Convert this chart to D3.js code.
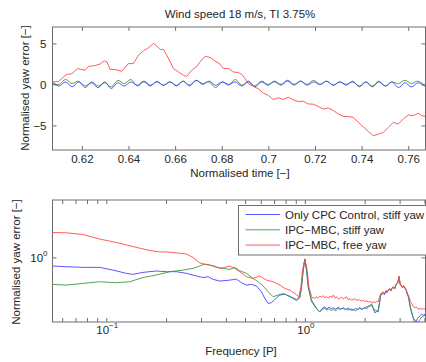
<!DOCTYPE html>
<html>
<head>
<meta charset="utf-8">
<script src="https://cdn.jsdelivr.net/npm/d3@7"></script>
<style>
body { margin: 0; background: white; }
svg { display: block; font-family: "Liberation Sans", Arial, sans-serif; }
</style>
</head>
<body>
<div class="svg"></div>
<script>
// time series, free yaw (red)
const timeFree = [0.6074, 0.6100, 0.6121, 0.6136, 0.6157, 0.6181, 0.6200, 0.6214, 0.6229, 0.6257, 0.6279, 0.6296, 0.6307, 0.6321, 0.6343, 0.6371,
  0.6400, 0.6421, 0.6443, 0.6464, 0.6486, 0.6507, 0.6521, 0.6536, 0.6550, 0.6564, 0.6579, 0.6593, 0.6614, 0.6636, 0.6650, 0.6671,
  0.6693, 0.6707, 0.6729, 0.6750, 0.6771, 0.6793, 0.6807, 0.6829, 0.6850, 0.6871, 0.6886, 0.6900, 0.6914, 0.6936, 0.6957, 0.6979,
  0.7000, 0.7021, 0.7043, 0.7064, 0.7086, 0.7107, 0.7129, 0.7150, 0.7171, 0.7193, 0.7214, 0.7236, 0.7257, 0.7279, 0.7300, 0.7321,
  0.7343, 0.7364, 0.7386, 0.7407, 0.7429, 0.7450, 0.7471, 0.7493, 0.7514, 0.7536, 0.7557, 0.7579, 0.7600, 0.7621, 0.7643, 0.7657, 0.7676];
const yawFree = [0.29, 0.37, 0.9, 1.23, 1.3, 1.93, 1.8, 1.72, 2.2, 2.3, 2.5, 2.87, 2.75, 1.84, 1.8, 1.6,
  2.54, 2.54, 3.57, 4.1, 4.47, 5.0, 4.7, 4.26, 4.26, 3.57, 2.75, 1.93, 1.52, 1.1, 0.98, 1.72,
  2.2, 2.75, 3.44, 3.28, 2.87, 2.46, 1.93, 1.93, 1.52, 1.43, 1.23, 0.7, 0.08, -0.25, -0.53, -1.07,
  -1.35, -1.84, -1.64, -1.84, -1.56, -1.89, -2.09, -2.05, -2.38, -2.42, -2.7, -3.0, -2.87, -3.2, -3.6, -3.9,
  -3.93, -4.0, -4.63, -5.16, -5.74, -6.27, -6.07, -5.86, -5.25, -4.63, -4.84, -4.22, -3.73, -3.81, -3.52, -3.81, -3.93];

// time series, stiff yaw (blue and green), sampled at the wave peaks and troughs
const timeStiff = [0.6074, 0.6102, 0.6130, 0.6158, 0.6186, 0.6214, 0.6242, 0.6270, 0.6298, 0.6326, 0.6354, 0.6382, 0.6410, 0.6438, 0.6466,
  0.6494, 0.6522, 0.6550, 0.6578, 0.6606, 0.6634, 0.6662, 0.6690, 0.6718, 0.6746, 0.6774, 0.6802, 0.6830, 0.6858, 0.6886,
  0.6914, 0.6942, 0.6970, 0.6998, 0.7026, 0.7054, 0.7082, 0.7110, 0.7138, 0.7166, 0.7194, 0.7222, 0.7250, 0.7278, 0.7306,
  0.7334, 0.7362, 0.7390, 0.7418, 0.7446, 0.7474, 0.7502, 0.7530, 0.7558, 0.7586, 0.7614, 0.7642, 0.7674];
const yawCpc = [0.3, -0.2, 0.3, -0.3, 0.3, -0.2, 0.2, -0.4, 0.3, -0.5, 0.2, -0.2, 0.3, -0.1, 0.4,
  -0.1, 0.3, -0.1, 0.3, -0.2, 0.4, -0.1, 0.5, 0.0, 0.4, -0.1, 0.3, 0.0, 0.3, -0.2,
  0.4, -0.3, 0.3, -0.1, 0.4, 0.0, 0.5, 0.0, 0.4, -0.1, 0.3, 0.0, 0.4, -0.1, 0.3,
  0.0, 0.3, -0.2, 0.3, -0.3, 0.3, -0.2, 0.3, -0.4, 0.2, -0.3, 0.2, -0.3];
const yawMbc = [0.1, 0.0, 0.6, 0.1, 0.4, -0.4, 0.3, -0.2, 0.2, -0.3, 0.5, 0.1, 0.6, -0.2, 0.3,
  -0.2, 0.4, -0.1, 0.3, -0.1, 0.4, -0.2, 0.5, 0.1, 0.3, -0.4, 0.3, -0.1, 0.6, -0.1,
  0.3, -0.2, 0.4, 0.0, 0.3, -0.1, 0.4, -0.1, 0.4, 0.0, 0.5, 0.0, 0.4, -0.1, 0.3,
  -0.1, 0.4, -0.3, 0.3, -0.2, 0.4, -0.2, 0.3, 0.1, 0.5, 0.1, 0.4, -0.2];

const timeTicks = [0.62, 0.64, 0.66, 0.68, 0.7, 0.72, 0.74, 0.76];
const yawTicks = [-5, 0, 5];

// spectra [frequency in P, normalised yaw error]
const psdCpc = [[0.0536, 0.847], [0.0628, 0.836], [0.0763, 0.826], [0.0926, 0.826], [0.108, 0.784], [0.1261, 0.736], [0.1363, 0.722],
  [0.1531, 0.75], [0.1787, 0.77], [0.2007, 0.76], [0.2254, 0.76], [0.2532, 0.736], [0.2842, 0.70], [0.3072, 0.68], [0.3257, 0.69],
  [0.345, 0.656], [0.3728, 0.635], [0.4184, 0.647], [0.4522, 0.66], [0.4794, 0.615], [0.508, 0.588], [0.5384, 0.596], [0.5707, 0.577],
  [0.6045, 0.518], [0.6283, 0.455], [0.6531, 0.414], [0.6789, 0.42], [0.7057, 0.447], [0.7479, 0.486], [0.7929, 0.495], [0.8402, 0.47],
  [0.9079, 0.447], [0.9436, 0.47], [0.9621, 0.57], [0.9808, 0.78], [1.0, 0.97], [1.0195, 0.78], [1.0394, 0.57],
  [1.06, 0.49], [1.08, 0.44], [1.10, 0.42], [1.12, 0.40], [1.15, 0.37], [1.19, 0.352], [1.22, 0.375], [1.26, 0.388], [1.29, 0.37],
  [1.32, 0.385], [1.36, 0.375], [1.39, 0.381], [1.43, 0.37], [1.47, 0.385], [1.51, 0.372], [1.56, 0.376], [1.60, 0.368], [1.65, 0.38],
  [1.70, 0.365], [1.75, 0.364], [1.80, 0.375], [1.85, 0.37], [1.89, 0.383], [1.94, 0.37], [1.99, 0.38], [2.05, 0.376], [2.10, 0.39],
  [2.17, 0.40], [2.21, 0.375], [2.25, 0.346], [2.30, 0.355], [2.34, 0.352], [2.38, 0.42], [2.41, 0.486], [2.45, 0.495], [2.48, 0.50],
  [2.52, 0.49], [2.56, 0.52], [2.60, 0.51], [2.63, 0.534], [2.67, 0.545], [2.71, 0.525], [2.75, 0.555], [2.79, 0.562], [2.83, 0.545],
  [2.87, 0.58], [2.90, 0.60], [2.94, 0.62], [2.98, 0.68], [3.02, 0.59], [3.06, 0.58], [3.10, 0.56], [3.15, 0.57], [3.19, 0.552],
  [3.24, 0.53], [3.28, 0.49], [3.32, 0.47], [3.36, 0.42], [3.40, 0.38], [3.45, 0.352], [3.52, 0.31], [3.56, 0.288], [3.62, 0.292],
  [3.69, 0.31], [3.78, 0.325], [3.875, 0.337], [3.95, 0.33], [4.07, 0.341]];
const psdStiff = [[0.0536, 0.596], [0.0628, 0.588], [0.0763, 0.607], [0.0926, 0.627], [0.1123, 0.615], [0.1311, 0.627], [0.1531, 0.68],
  [0.1787, 0.713], [0.2086, 0.76], [0.2435, 0.784], [0.2735, 0.81], [0.2955, 0.847], [0.3133, 0.88], [0.3319, 0.863], [0.3586, 0.826],
  [0.3876, 0.81], [0.4184, 0.794], [0.4437, 0.826], [0.4702, 0.774], [0.508, 0.736], [0.549, 0.668], [0.5816, 0.627], [0.6163, 0.577],
  [0.6531, 0.518], [0.6921, 0.47], [0.7335, 0.486], [0.7776, 0.50], [0.8402, 0.476], [0.9079, 0.435], [0.9436, 0.46], [0.9621, 0.57],
  [0.9808, 0.78], [1.0, 0.97], [1.0195, 0.78], [1.0394, 0.57],
  [1.06, 0.50], [1.08, 0.427], [1.10, 0.41], [1.12, 0.393], [1.15, 0.37], [1.19, 0.352], [1.22, 0.37], [1.26, 0.376], [1.29, 0.365],
  [1.32, 0.372], [1.36, 0.362], [1.39, 0.369], [1.43, 0.36], [1.47, 0.375], [1.51, 0.37], [1.56, 0.381], [1.60, 0.37], [1.65, 0.365],
  [1.70, 0.372], [1.75, 0.369], [1.80, 0.36], [1.85, 0.37], [1.89, 0.376], [1.94, 0.368], [1.99, 0.38], [2.05, 0.388], [2.10, 0.395],
  [2.17, 0.41], [2.21, 0.38], [2.25, 0.364], [2.30, 0.36], [2.34, 0.36], [2.38, 0.43], [2.41, 0.495], [2.45, 0.50], [2.48, 0.507],
  [2.52, 0.50], [2.56, 0.515], [2.60, 0.52], [2.63, 0.53], [2.67, 0.55], [2.71, 0.53], [2.75, 0.55], [2.79, 0.567], [2.83, 0.55],
  [2.87, 0.585], [2.90, 0.605], [2.94, 0.615], [2.98, 0.69], [3.02, 0.595], [3.06, 0.585], [3.10, 0.565], [3.15, 0.575], [3.19, 0.555],
  [3.24, 0.535], [3.28, 0.495], [3.32, 0.475], [3.36, 0.43], [3.40, 0.385], [3.45, 0.341], [3.52, 0.31], [3.59, 0.30], [3.66, 0.291],
  [3.73, 0.29], [3.80, 0.305], [3.875, 0.32], [3.95, 0.325], [4.07, 0.33]];
const psdFree = [[0.0536, 1.61], [0.0628, 1.60], [0.0763, 1.55], [0.0926, 1.42], [0.1123, 1.33], [0.1363, 1.23], [0.1654, 1.14],
  [0.1857, 1.11], [0.2007, 1.11], [0.2254, 1.09], [0.2532, 1.066], [0.2735, 1.0], [0.2955, 0.90], [0.3133, 0.875], [0.3319, 0.863],
  [0.3518, 0.847], [0.3728, 0.81], [0.3951, 0.825], [0.4184, 0.847], [0.4437, 0.81], [0.4702, 0.76], [0.508, 0.69], [0.549, 0.668],
  [0.593, 0.70], [0.6405, 0.647], [0.6921, 0.627], [0.7479, 0.588], [0.7929, 0.552], [0.8402, 0.534], [0.8906, 0.50], [0.9327, 0.47],
  [0.9546, 0.57], [0.9732, 0.78], [1.0, 0.97], [1.0275, 0.78], [1.0476, 0.57], [1.0804, 0.47],
  [1.10, 0.46], [1.12, 0.455], [1.14, 0.47], [1.16, 0.46], [1.19, 0.476], [1.21, 0.465], [1.24, 0.48], [1.26, 0.462], [1.29, 0.47],
  [1.31, 0.458], [1.34, 0.475], [1.37, 0.465], [1.39, 0.486], [1.42, 0.46], [1.45, 0.47], [1.48, 0.45], [1.50, 0.455], [1.53, 0.468],
  [1.56, 0.45], [1.59, 0.46], [1.62, 0.47], [1.65, 0.445], [1.69, 0.455], [1.72, 0.44], [1.75, 0.447], [1.79, 0.452], [1.83, 0.438],
  [1.86, 0.445], [1.89, 0.44], [1.93, 0.432], [1.97, 0.44], [2.01, 0.43], [2.05, 0.435], [2.09, 0.425], [2.13, 0.43], [2.17, 0.42],
  [2.21, 0.427], [2.26, 0.42], [2.30, 0.43], [2.34, 0.427], [2.38, 0.47], [2.41, 0.50], [2.45, 0.51], [2.48, 0.518], [2.52, 0.50],
  [2.56, 0.53], [2.60, 0.52], [2.63, 0.534], [2.67, 0.55], [2.71, 0.53], [2.75, 0.56], [2.79, 0.57], [2.83, 0.55], [2.87, 0.59],
  [2.90, 0.607], [2.94, 0.62], [2.98, 0.70], [3.02, 0.60], [3.06, 0.59], [3.10, 0.57], [3.15, 0.58], [3.19, 0.562], [3.24, 0.54],
  [3.28, 0.50], [3.32, 0.486], [3.36, 0.46], [3.40, 0.43], [3.45, 0.414], [3.52, 0.39], [3.59, 0.381], [3.66, 0.385], [3.73, 0.37],
  [3.80, 0.376], [3.88, 0.37], [3.96, 0.375], [4.07, 0.369]];

const freqMajor = [0.1, 1];
const freqMajorLabels = ['\u22121', '0'];
const freqMinor = [0.06, 0.07, 0.08, 0.09, 0.2, 0.3, 0.4, 0.5, 0.6, 0.7, 0.8, 0.9, 2, 3, 4];
const psdTicks = [1];

const legendLabels = ['Only CPC Control, stiff yaw', 'IPC\u2212MBC, stiff yaw', 'IPC\u2212MBC, free yaw'];

const w = 426;
const h = 362;
const left = 52.5;
const right = 425.5;
const ink = '#262626';
const frame = '#6e6e6e';
const blue = '#4444ff';
const green = '#3f9a3f';
const red = '#ff4a4a';

const svg = d3.select('.svg').append('svg').attr('width', w).attr('height', h).style('background-color', 'white');

const styleAxis = (g) => {
  g.select('.domain').remove();
  g.selectAll('.tick line').attr('stroke', frame);
  g.selectAll('.tick text').attr('fill', ink).style('font-size', '11.5px');
};

// ---------- top panel ----------
const tTop = 27, tBottom = 150;
const xTime = d3.scaleLinear().domain([0.6074, 0.7674]).range([left, right]);
const yYaw = d3.scaleLinear().domain([-8, 7]).range([tBottom, tTop]);

svg.append('clipPath').attr('id', 'clipTop').append('rect')
  .attr('x', left).attr('y', tTop).attr('width', right - left).attr('height', tBottom - tTop);

svg.append('g').attr('transform', `translate(0, ${tBottom})`)
  .call(d3.axisBottom(xTime).tickValues(timeTicks).tickSize(-4).tickPadding(5).tickFormat(d => String(d))).call(styleAxis);
svg.append('g').attr('transform', `translate(0, ${tTop})`)
  .call(d3.axisTop(xTime).tickValues(timeTicks).tickSize(-4).tickFormat('')).call(styleAxis);
svg.append('g').attr('transform', `translate(${left}, 0)`)
  .call(d3.axisLeft(yYaw).tickValues(yawTicks).tickSize(-4).tickPadding(6).tickFormat(d3.format(''))).call(styleAxis);
svg.append('g').attr('transform', `translate(${right}, 0)`)
  .call(d3.axisRight(yYaw).tickValues(yawTicks).tickSize(-4).tickFormat('')).call(styleAxis);

const timeLine = d3.line().x(d => xTime(d[0])).y(d => yYaw(d[1]));
const waveLine = d3.line().x(d => xTime(d[0])).y(d => yYaw(d[1])).curve(d3.curveCatmullRom);

const topPlot = svg.append('g').attr('clip-path', 'url(#clipTop)');
topPlot.append('path').datum(d3.zip(timeStiff, yawMbc)).attr('d', waveLine)
  .attr('fill', 'none').attr('stroke', green).attr('stroke-width', 0.9);
topPlot.append('path').datum(d3.zip(timeStiff, yawCpc)).attr('d', waveLine)
  .attr('fill', 'none').attr('stroke', blue).attr('stroke-width', 0.9);
topPlot.append('path').datum(d3.zip(timeFree, yawFree)).attr('d', timeLine)
  .attr('fill', 'none').attr('stroke', red).attr('stroke-width', 0.9);

svg.append('rect').attr('x', left).attr('y', tTop).attr('width', right - left).attr('height', tBottom - tTop)
  .attr('fill', 'none').attr('stroke', frame);

svg.append('text').attr('x', 240).attr('y', 18).attr('text-anchor', 'middle').attr('fill', ink)
  .style('font-size', '11.5px').text('Wind speed 18 m/s, TI 3.75%');
svg.append('text').attr('x', 240).attr('y', 177).attr('text-anchor', 'middle').attr('fill', ink)
  .style('font-size', '11.5px').text('Normalised time [\u2212]');
svg.append('text').attr('transform', 'translate(29, 88) rotate(-90)').attr('text-anchor', 'middle').attr('fill', ink)
  .style('font-size', '11.5px').text('Normalised yaw error [\u2212]');

// ---------- bottom panel ----------
const bTop = 200, bBottom = 322;
const xFreq = d3.scaleLog().domain([0.0536, 4.05]).range([left, right]);
const yPsd = d3.scaleLog().domain([0.29, 3]).range([bBottom, bTop]);

svg.append('clipPath').attr('id', 'clipBottom').append('rect')
  .attr('x', left).attr('y', bTop).attr('width', right - left).attr('height', bBottom - bTop);

const freqTicks = freqMajor.concat(freqMinor);
svg.append('g').attr('transform', `translate(0, ${bBottom})`)
  .call(d3.axisBottom(xFreq).tickValues(freqTicks).tickSize(-4).tickFormat('')).call(styleAxis);
svg.append('g').attr('transform', `translate(0, ${bTop})`)
  .call(d3.axisTop(xFreq).tickValues(freqTicks).tickSize(-4).tickFormat('')).call(styleAxis);
svg.append('g').attr('transform', `translate(${left}, 0)`)
  .call(d3.axisLeft(yPsd).tickValues(psdTicks).tickSize(-4).tickFormat('')).call(styleAxis);
svg.append('g').attr('transform', `translate(${right}, 0)`)
  .call(d3.axisRight(yPsd).tickValues(psdTicks).tickSize(-4).tickFormat('')).call(styleAxis);

// power-of-ten labels
freqMajor.forEach((f, i) => {
  const t = svg.append('text').attr('x', xFreq(f) + 1).attr('y', bBottom + 12).attr('text-anchor', 'middle')
    .attr('fill', ink).style('font-size', '11.5px');
  t.append('tspan').text('10');
  t.append('tspan').attr('dy', -6).style('font-size', '8px').text(freqMajorLabels[i]);
});
psdTicks.forEach((v) => {
  const t = svg.append('text').attr('x', left - 5).attr('y', yPsd(v) + 5).attr('text-anchor', 'end')
    .attr('fill', ink).style('font-size', '11.5px');
  t.append('tspan').text('10');
  t.append('tspan').attr('dy', -6).style('font-size', '8px').text('0');
});

const psdLine = d3.line().x(d => xFreq(d[0])).y(d => yPsd(d[1]));
const bottomPlot = svg.append('g').attr('clip-path', 'url(#clipBottom)');
bottomPlot.append('path').datum(psdCpc).attr('d', psdLine).attr('fill', 'none').attr('stroke', blue).attr('stroke-width', 0.9);
bottomPlot.append('path').datum(psdStiff).attr('d', psdLine).attr('fill', 'none').attr('stroke', green).attr('stroke-width', 0.9);
bottomPlot.append('path').datum(psdFree).attr('d', psdLine).attr('fill', 'none').attr('stroke', red).attr('stroke-width', 0.9);

svg.append('rect').attr('x', left).attr('y', bTop).attr('width', right - left).attr('height', bBottom - bTop)
  .attr('fill', 'none').attr('stroke', frame);

svg.append('text').attr('x', 241).attr('y', 355).attr('text-anchor', 'middle').attr('fill', ink)
  .style('font-size', '11.5px').text('Frequency [P]');
svg.append('text').attr('transform', 'translate(20, 262) rotate(-90)').attr('text-anchor', 'middle').attr('fill', ink)
  .style('font-size', '11.5px').text('Normalised yaw error [\u2212]');

// legend
const legend = svg.append('g');
legend.append('rect').attr('x', 238.5).attr('y', 205.5).attr('width', 200).attr('height', 49.5)
  .attr('fill', 'white').attr('stroke', frame);
[blue, green, red].forEach((c, i) => {
  const y = 214.5 + i * 15.3;
  legend.append('line').attr('x1', 245.5).attr('x2', 280).attr('y1', y).attr('y2', y)
    .attr('stroke', c).attr('stroke-width', 0.9);
  legend.append('text').attr('x', 285).attr('y', y + 4).attr('fill', ink)
    .style('font-size', '11.5px').text(legendLabels[i]);
});
</script>
</body>
</html>
